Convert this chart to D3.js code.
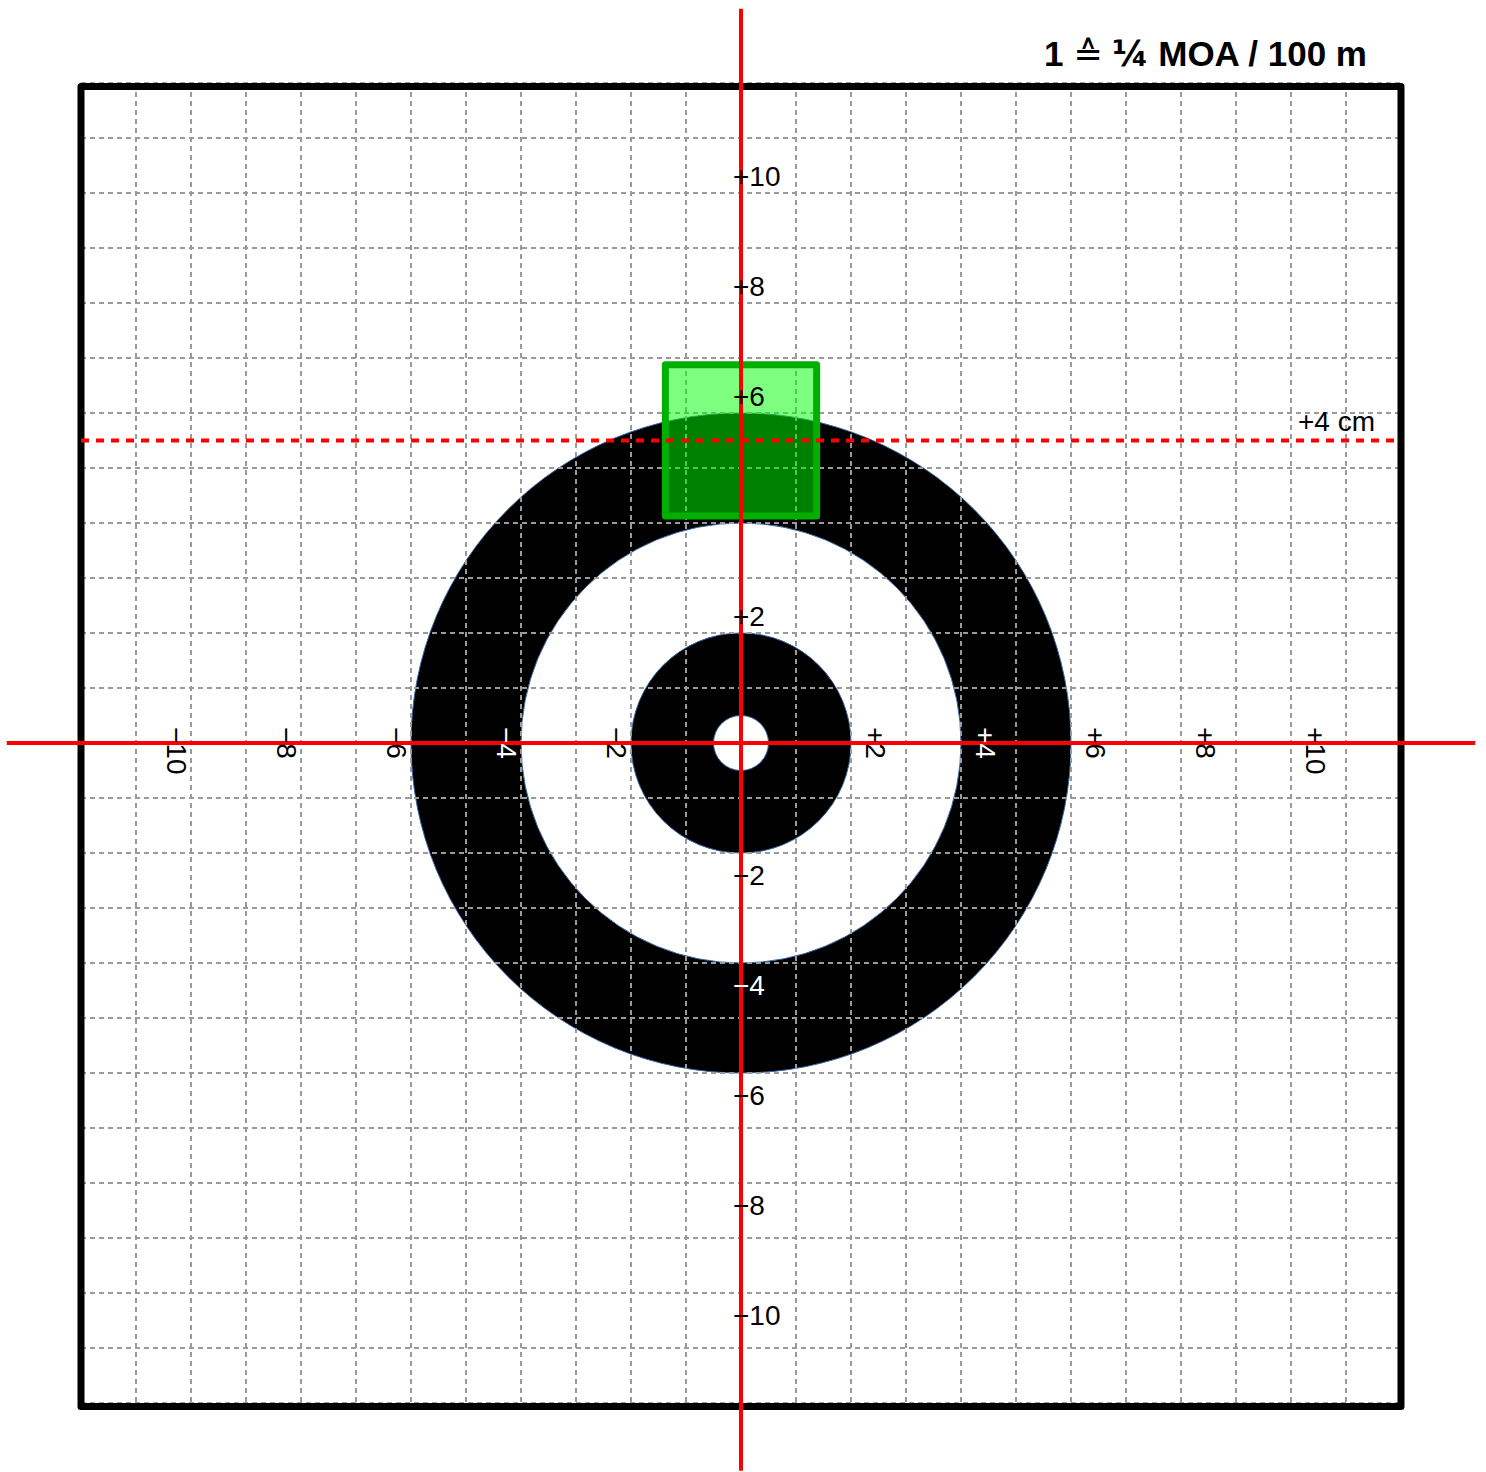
<!DOCTYPE html>
<meta charset="utf-8">
<style>
  body { margin: 0; background: #fff; }
  text { font-family: "Liberation Sans", Arial, sans-serif; }
  .grid line { stroke: #9a9a9a; stroke-width: 2; stroke-dasharray: 5,4; }
  .axis { stroke: #ff0000; stroke-width: 4; }
  .lbl { font-size: 28px; }
</style>
<body>
<script src="https://cdn.jsdelivr.net/npm/d3@7"></script>
<script>

  // grid units: 1 = 1/4 MOA at 100 m
  var cmPerUnit = 0.727;
  var gridSteps = d3.range(-12, 13);
  var xTicks = [-10, -8, -6, -4, -2, 2, 4, 6, 8, 10];
  var yTicks = [-10, -8, -6, -4, -2, 2, 6, 8, 10];
  // target rings, outside in (radius in units)
  var ringRadius = [6, 4, 2, 0.5];
  var ringFill = ["#000", "#fff", "#000", "#fff"];
  var aimCm = 4;        // dashed line height
  var boxCm = 2;        // green square side
  var titleParts = ["1 ", "\u2259", " ", "\u00bc", " MOA / 100 m"];
  var aimLabel = "+4 cm";

  var W = 1486, H = 1472;
  var svg = d3.select("body").append("svg").attr("width", W).attr("height", H);

  var x = d3.scaleLinear().domain([-12, 12]).range([81, 1401]);
  var y = d3.scaleLinear().domain([-12, 12]).range([1403, 83]);
  var u = x(1) - x(0);
  var cx = x(0), cy = y(0);

  // rings
  svg.append("g").selectAll("circle").data(ringRadius).join("circle")
      .attr("cx", cx).attr("cy", cy)
      .attr("r", d => d * u)
      .attr("fill", (d, i) => ringFill[i])
      .attr("stroke", "#3465a4").attr("stroke-width", 1);

  // grid
  var grid = svg.append("g").attr("class", "grid");
  grid.selectAll(".v").data(gridSteps).join("line").attr("class", "v")
      .attr("x1", d => x(d)).attr("x2", d => x(d))
      .attr("y1", y(12)).attr("y2", y(-12));
  grid.selectAll(".h").data(gridSteps).join("line").attr("class", "h")
      .attr("y1", d => y(d)).attr("y2", d => y(d))
      .attr("x1", x(-12)).attr("x2", x(12));

  // frame
  svg.append("rect")
      .attr("x", x(-12)).attr("y", y(12) + 3.5)
      .attr("width", x(12) - x(-12)).attr("height", y(-12) - y(12))
      .attr("fill", "none").attr("stroke", "#000").attr("stroke-width", 7)
      .attr("stroke-linejoin", "round");

  // green square around aim point
  var aimU = aimCm / cmPerUnit, boxU = boxCm / cmPerUnit;
  svg.append("rect")
      .attr("x", x(-boxU / 2)).attr("y", y(aimU + boxU / 2))
      .attr("width", boxU * u).attr("height", boxU * u)
      .attr("fill", "#00ff00").attr("fill-opacity", 0.5)
      .attr("stroke", "#00b000").attr("stroke-width", 7)
      .attr("stroke-linejoin", "round");

  // red axes
  svg.append("line").attr("class", "axis")
      .attr("x1", x(-13.35)).attr("x2", x(13.35)).attr("y1", cy).attr("y2", cy);
  svg.append("line").attr("class", "axis")
      .attr("x1", cx).attr("x2", cx).attr("y1", y(13.35)).attr("y2", y(-13.23));

  // aim line
  svg.append("line")
      .attr("x1", x(-12)).attr("x2", x(12)).attr("y1", y(aimU)).attr("y2", y(aimU))
      .attr("stroke", "#ff0000").attr("stroke-width", 4).attr("stroke-dasharray", "8,7");
  svg.append("text").attr("class", "lbl")
      .attr("x", x(12) - 26).attr("y", y(aimU) - 9)
      .attr("text-anchor", "end").text(aimLabel);

  // label colour: white when sitting on a black ring
  function labelColor(r) {
    var c = "#fff";
    ringRadius.forEach((rr, i) => { if (r <= rr) c = ringFill[i]; });
    return c === "#000" ? "#ffffff" : "#000000";
  }
  var fmt = d => (d > 0 ? "+" : "\u2212") + Math.abs(d);
  var offX = d => d > 0 ? 24 : 15;
  var offY = d => d > 0 ? 17 : 22;

  svg.append("g").selectAll("text").data(xTicks).join("text").attr("class", "lbl")
      .attr("transform", d => "translate(" + (x(d) + Math.sign(d) * offX(d)) + "," + (cy - 16) + ") rotate(90)")
      .attr("dominant-baseline", "central")
      .style("fill", d => labelColor(Math.abs(d) + offX(d) / u))
      .text(fmt);

  svg.append("g").selectAll("text").data(yTicks).join("text").attr("class", "lbl")
      .attr("x", cx - 8)
      .attr("y", d => y(d) - Math.sign(d) * offY(d))
      .attr("dominant-baseline", "central")
      .style("fill", d => labelColor(Math.abs(d) + offY(d) / u))
      .text(fmt);

  // title
  var t = svg.append("text")
      .attr("x", 1367).attr("y", 66)
      .attr("text-anchor", "end")
      .style("font-size", "35px").style("font-weight", "bold");
  t.selectAll("tspan").data(titleParts).join("tspan")
      .style("font-family", (d, i) => i === 1 || i === 3 ? "DejaVu Sans" : null)
      .style("font-weight", (d, i) => i === 1 ? "normal" : null)
      .text(d => d);
</script>
</body>
</html>
